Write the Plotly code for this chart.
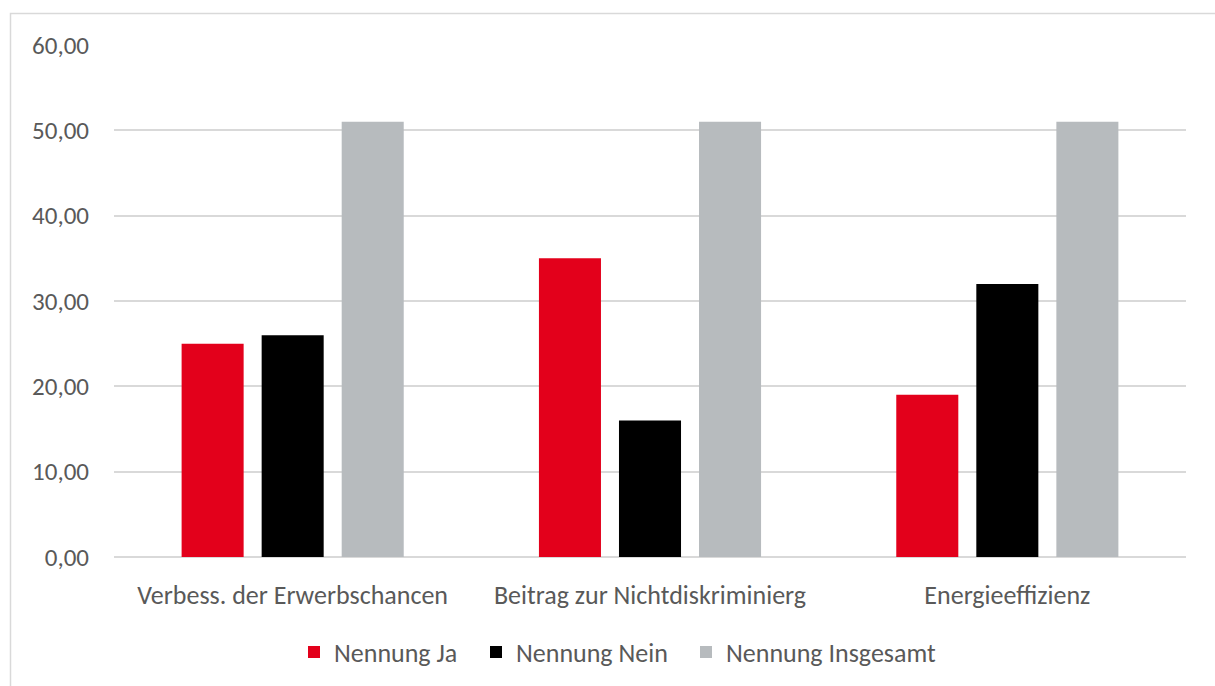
import plotly.graph_objects as go

categories = ["Verbess. der Erwerbschancen", "Beitrag zur Nichtdiskriminierg", "Energieeffizienz"]
nennung_ja = [25, 35, 19]
nennung_nein = [26, 16, 32]
nennung_insgesamt = [51, 51, 51]
series_names = ["Nennung Ja", "Nennung Nein", "Nennung Insgesamt"]
colors = ["#E3001B", "#000000", "#B7BBBE"]
legend_ids = ["legend", "legend2", "legend3"]

fig = go.Figure()
for name, vals, col, lg in zip(series_names, [nennung_ja, nennung_nein, nennung_insgesamt], colors, legend_ids):
    fig.add_trace(go.Bar(x=categories, y=vals, name=name, legend=lg,
                         marker=dict(color=col, line=dict(width=0))))

W, H = 1215, 686
L, R, T, B = 114, 29, 45, 128
pw, ph = W - L - R, H - T - B

def px_to_paper_x(px):
    return (px - L) / pw

def px_to_paper_y(py):
    return (H - B - py) / ph

fig.add_shape(type="rect", xref="paper", yref="paper",
              x0=px_to_paper_x(10.5), x1=px_to_paper_x(1230),
              y0=px_to_paper_y(700), y1=px_to_paper_y(13.5),
              line=dict(color="#D9D9D9", width=1.5), layer="below")

font_family = "Calibri, Carlito, Lato, sans-serif"
fs_x = 26
fs_y = 25
fs_leg = 26

legend_left_px = [308, 490, 700]
legend_cfg = {}
for lg, lx in zip(legend_ids, legend_left_px):
    legend_cfg[lg] = dict(orientation="h", x=px_to_paper_x(lx - 14), xanchor="left",
                          y=px_to_paper_y(652), yanchor="middle",
                          font=dict(size=fs_leg, color="#595959"), itemwidth=30,
                          bgcolor="rgba(0,0,0,0)")

fig.update_layout(
    width=W, height=H,
    margin=dict(l=L, r=R, t=T, b=B),
    plot_bgcolor="white", paper_bgcolor="white",
    barmode="group", bargap=0.328, bargroupgap=0.225,
    separators=",.",
    font=dict(family=font_family, size=fs_x, color="#595959"),
    showlegend=True,
    xaxis=dict(showgrid=False, showline=False, zeroline=False,
               ticks="outside", ticklen=15, tickcolor="rgba(0,0,0,0)",
               tickfont=dict(size=fs_x, color="#595959")),
    yaxis=dict(range=[0, 60], dtick=10, tickformat=".2f",
               showgrid=True, gridcolor="#D9D9D9", gridwidth=1.5,
               zeroline=True, zerolinecolor="#D9D9D9", zerolinewidth=1.5,
               showline=False, ticks="outside", ticklen=19, tickcolor="rgba(0,0,0,0)",
               tickfont=dict(size=fs_y, color="#595959")),
    **legend_cfg,
)

fig.write_html("out.html")
